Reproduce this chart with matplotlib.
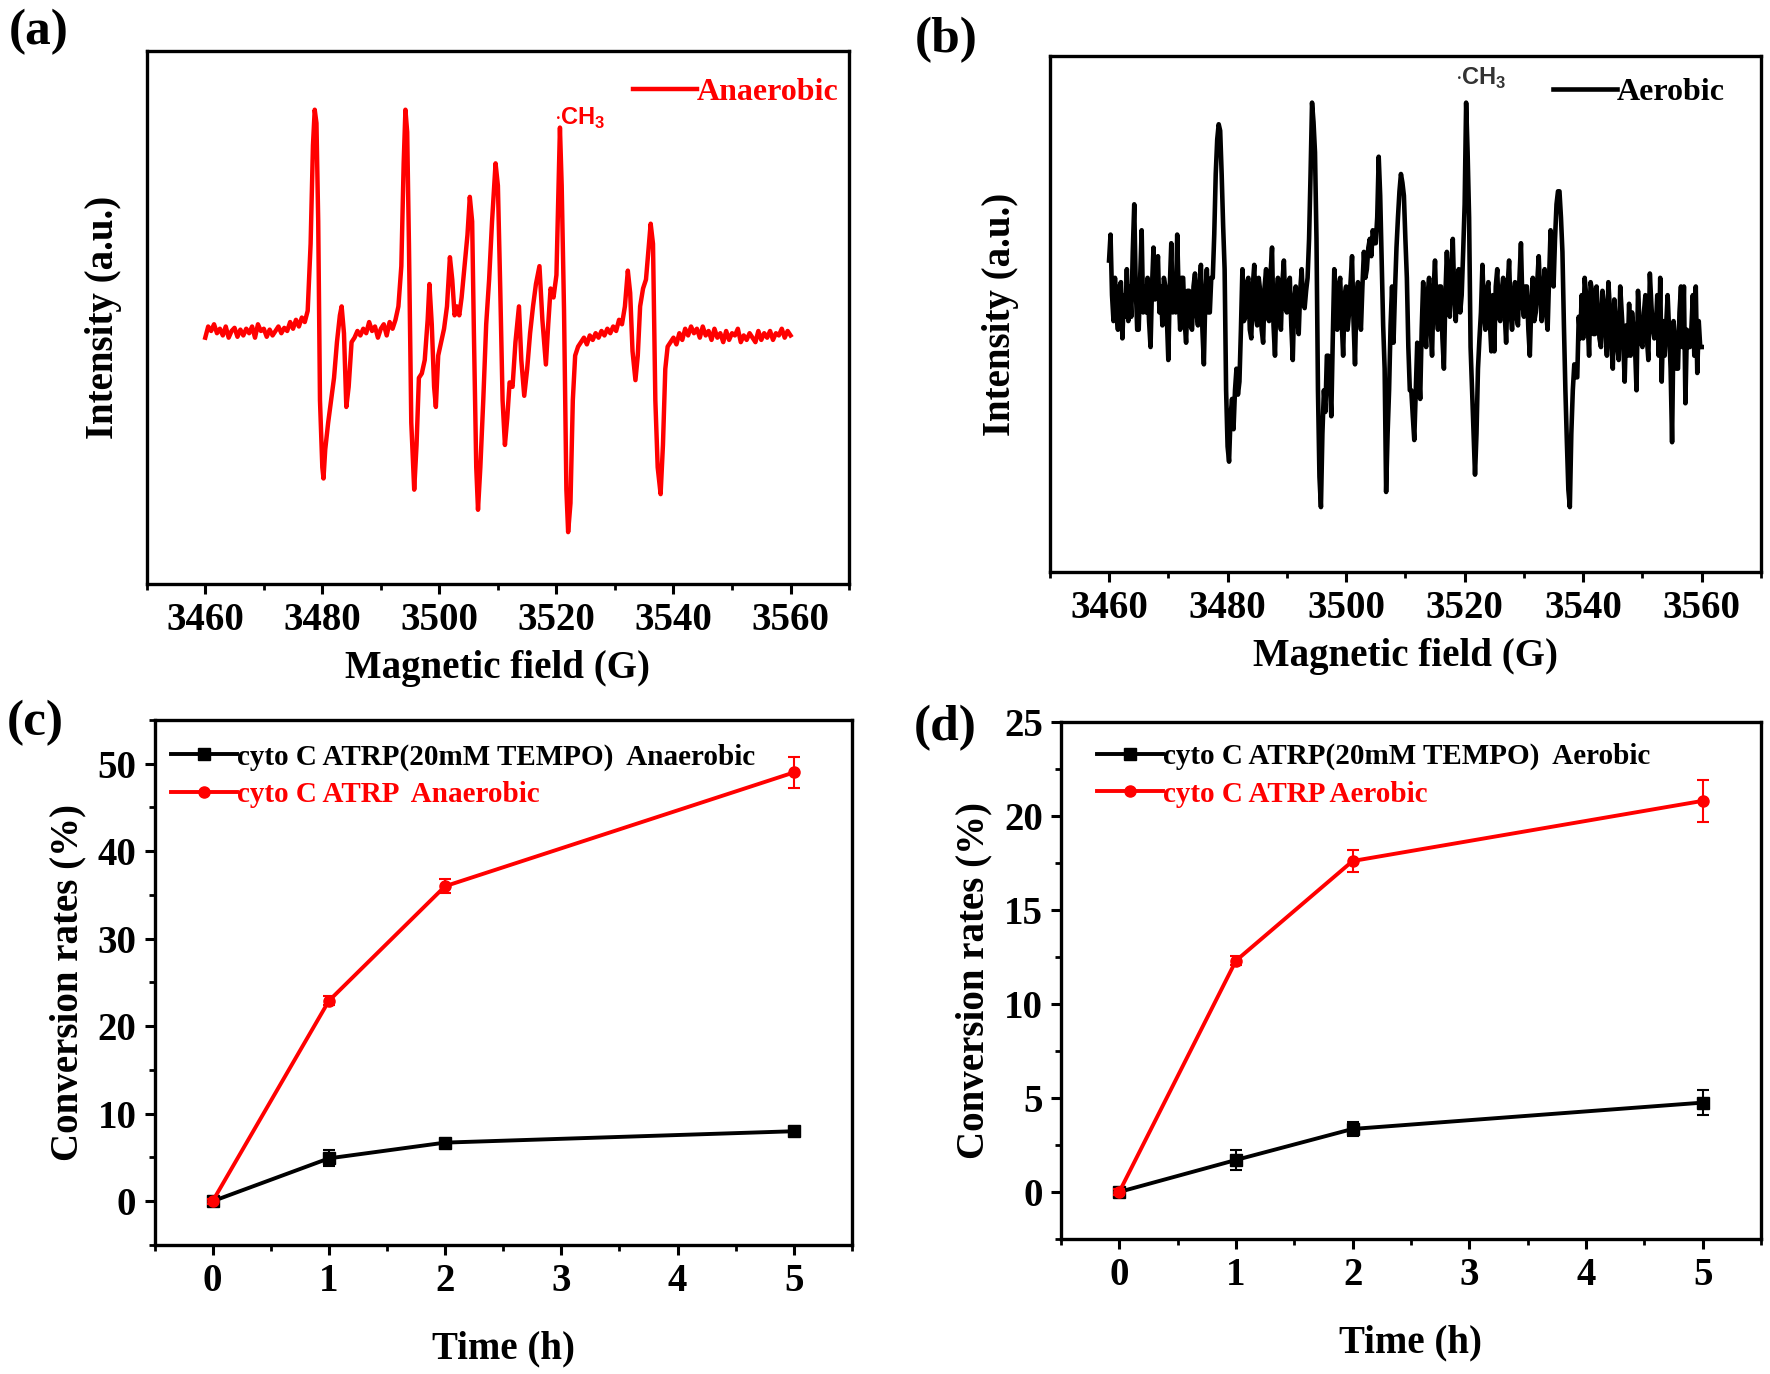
import matplotlib
matplotlib.use("Agg")
import matplotlib.pyplot as plt
from matplotlib.ticker import MultipleLocator

plt.rcParams['font.family'] = ['Liberation Serif', 'DejaVu Serif']
plt.rcParams['font.weight'] = 'bold'
plt.rcParams['axes.labelweight'] = 'bold'
plt.rcParams['mathtext.fontset'] = 'custom'
plt.rcParams['mathtext.rm'] = 'Liberation Sans'

# ---- EPR spectrum, anaerobic (panel a), field in G, intensity in a.u.
field_a = [3460, 3460.5, 3461, 3461.5, 3462, 3462.5, 3463, 3463.5, 3464, 3464.5, 3465, 3465.5,
           3466, 3466.5, 3467, 3467.5, 3468, 3468.5, 3469, 3469.5, 3470, 3470.5, 3471, 3471.5,
           3472, 3472.5, 3473, 3473.5, 3474, 3474.5, 3475, 3475.5, 3476, 3476.5, 3477, 3477.5,
           3478, 3478.4, 3478.7, 3479.0, 3479.3, 3479.6, 3480.0, 3480.2, 3480.5, 3481, 3481.5,
           3482, 3482.5, 3483, 3483.3, 3483.7, 3484.1, 3484.5, 3485, 3485.5, 3486, 3486.5, 3487,
           3487.5, 3488, 3488.5, 3489, 3489.5, 3490, 3490.5, 3491, 3491.5, 3492, 3492.5, 3493,
           3493.5, 3493.9, 3494.2, 3494.5, 3494.8, 3495.2, 3495.7, 3496.1, 3496.5, 3497, 3497.5,
           3498, 3498.3, 3498.7, 3499.1, 3499.4, 3499.8, 3500.3, 3500.8, 3501.3, 3501.8, 3502.2,
           3502.6, 3503, 3503.4, 3503.8, 3504.3, 3504.8, 3505.2, 3505.6, 3505.9, 3506.3, 3506.6,
           3507, 3507.5, 3508, 3508.5, 3509, 3509.6, 3510, 3510.4, 3510.8, 3511.2, 3511.6, 3512,
           3512.5, 3513, 3513.6, 3514, 3514.5, 3515, 3515.5, 3516, 3516.5, 3517.1, 3517.6, 3518.2,
           3518.6, 3519, 3519.5, 3520, 3520.3, 3520.6, 3520.9, 3521.3, 3521.7, 3522.0, 3522.4,
           3522.8, 3523.2, 3523.7, 3524.2, 3524.7, 3525.2, 3525.7, 3526.2, 3526.7, 3527.2, 3527.7,
           3528.2, 3528.7, 3529.2, 3529.7, 3530.2, 3530.7, 3531.2, 3531.7, 3532.2, 3532.6, 3533,
           3533.5, 3533.9, 3534.3, 3534.8, 3535.3, 3535.8, 3536.1, 3536.5, 3536.9, 3537.3, 3537.8,
           3538.2, 3538.6, 3539, 3539.5, 3540, 3540.5, 3541, 3541.5, 3542, 3542.5, 3543, 3543.5,
           3544, 3544.5, 3545, 3545.5, 3546, 3546.5, 3547, 3547.5, 3548, 3548.5, 3549, 3549.5,
           3550, 3550.5, 3551, 3551.5, 3552, 3552.5, 3553, 3553.5, 3554, 3554.5, 3555, 3555.5,
           3556, 3556.5, 3557, 3557.5, 3558, 3558.5, 3559, 3559.5, 3560]
intensity_a = [-10, 15, 5, 20, 0, 10, -5, 15, -10, 5, 12, -8,
               8, -5, 10, 0, 15, -10, 20, 5, 10, -8, 8, -5,
               5, 15, 0, 12, 5, 25, 10, 30, 15, 35, 25, 50,
               200, 420, 500, 470, 250, -150, -300, -325, -260, -200, -150,
               -100, -20, 40, 60, 0, -165, -120, -20, -10, 5, -5, 10,
               0, 25, 5, 15, -10, 10, 20, -5, 25, 10, 30, 60,
               150, 380, 500, 450, 200, -200, -350, -250, -100, -90, -60,
               30, 110, 20, -120, -165, -50, -20, 10, 60, 170, 120,
               40, 60, 40, 80, 150, 220, 305, 250, 0, -300, -395,
               -300, -150, 20, 120, 250, 380, 330, 100, -150, -250, -190, -110,
               -120, -20, 60, -60, -140, -80, 0, 60, 110, 150, 30, -70,
               20, 100, 80, 130, 300, 460, 330, 50, -350, -445, -380,
               -150, -50, -30, -20, -10, -25, -5, -15, 0, -10, 5,
               -5, 10, 0, 15, 5, 30, 20, 60, 140, 90, -40,
               -105, -50, 60, 100, 120, 200, 245, 200, -150, -300, -360,
               -250, -80, -30, -20, -10, -25, 0, -15, 10, -5, 15, 0,
               10, -10, 15, -5, 5, -15, 10, -10, 0, -20, 5, -15,
               0, -5, 10, -20, -5, -15, 0, -10, -20, 5, -15, 0,
               -10, 5, -15, 0, -5, 10, -10, 5, -5]

# ---- EPR spectrum, aerobic (panel b): one reading every 0.25 G from 3460 to 3560 G
field_b = [3460 + 0.25 * i for i in range(401)]
intensity_b = [100, 160, 20, -40, 60, -20, -60, 40, 50, -80, 20, -30, 80, -40, 40, -30, 120, 230, 40, -60,
               -60, 60, 170, -20, 40, -20, 60, -40, -100, 40, 130, 10, 60, 110, -20, 40, -50, 60, 40, -30,
               -130, 40, 140, -20, 60, -20, 160, 20, -60, 60, 60, -40, -90, 30, 30, -50, -60, 40, 70, -20,
               -50, 40, 90, -60, -140, 20, 80, -20, -20, 60, 60, 160, 300, 380, 415, 400, 300, 180, 80, -200,
               -330, -365, -260, -220, -290, -200, -150, -210, -180, -60, 80, -40, -30, 50, 60, -60, -80, 40, 90, -30,
               -50, 60, 30, -60, -90, 40, 80, -30, -40, 70, 130, -50, -120, 20, 60, -30, -60, 50, 100, -10,
               -20, 50, 60, -50, -130, 10, 40, -30, -70, 30, 80, 0, -10, 30, 60, 150, 300, 465, 420, 350,
               150, -200, -400, -470, -300, -200, -250, -120, -120, -180, -260, -80, 80, 20, -60, 40, 60, -40, -120, 20,
               40, -60, -20, 50, 110, -40, -140, 20, 50, -20, -60, 40, 120, 60, 80, 130, 150, 110, 170, 140,
               140, 200, 340, 250, 100, -50, -150, -435, -300, -200, -50, 40, -90, 30, 130, 200, 260, 300, 280, 250,
               150, 60, -100, -200, -200, -260, -315, -200, -90, -150, -220, -60, 50, -40, -100, 20, 60, -50, -120, 30,
               100, -20, -60, 40, 40, -80, -150, 20, 120, 30, -30, 80, 150, 20, -40, 60, 80, -20, 20, 120,
               230, 465, 350, 200, -100, -200, -300, -395, -300, -150, -80, -20, 90, -10, -60, 30, 50, -40, -110, 20,
               -110, 40, 80, -30, -40, 30, 60, -20, -90, 40, 100, -20, -60, 20, 50, -30, -50, 60, 140, 0,
               -30, 40, 40, -60, -120, 0, 60, -40, -20, 50, 110, 20, -40, 30, 80, -20, -60, 60, 170, 100,
               40, 150, 230, 260, 260, 200, 120, -50, -200, -320, -430, -470, -300, -200, -140, -170, -170, -30, -80, 20,
               -80, 60, 20, -40, -120, 50, 30, -70, -70, 40, -20, -80, -100, 30, 0, -60, -120, 50, -10, -90,
               -150, 10, -40, -100, -130, 40, -20, -80, -180, -50, -120, 0, -120, -20, -60, -100, -200, 30, -40, -90,
               -100, -20, 20, -80, -130, 70, 0, -60, -80, -60, 20, -120, 60, -180, -40, -120, -50, 20, -60, -150,
               -320, -40, -80, -150, -150, -20, 40, -100, 40, -230, -60, -100, -100, -60, 20, -120, 40, -160, -40, -100,
               -100]

# ---- conversion kinetics (panels c, d)
time_h = [0, 1, 2, 5]
conv_c_tempo = [0, 4.9, 6.7, 8.0]
err_c_tempo = [0.3, 0.9, 0.3, 0.3]
conv_c_atrp = [0, 22.9, 36.0, 49.0]
err_c_atrp = [0.3, 0.5, 0.8, 1.8]
conv_d_tempo = [0, 1.7, 3.35, 4.75]
err_d_tempo = [0.15, 0.55, 0.35, 0.65]
conv_d_atrp = [0, 12.3, 17.6, 20.8]
err_d_atrp = [0.15, 0.25, 0.6, 1.1]

RED = '#ff0000'
TICK_FS = 28
LABEL_FS = 28


def style_axes(ax):
    for sp in ax.spines.values():
        sp.set_linewidth(2.4)
    ax.tick_params(axis='both', which='major', direction='out', length=7, width=2.2,
                   labelsize=TICK_FS, top=False, right=False, pad=6)
    ax.tick_params(axis='both', which='minor', direction='out', length=4, width=2.0,
                   top=False, right=False)


fig = plt.figure(figsize=(17.7, 13.74), dpi=100)

# (a)
ax_a = fig.add_axes([0.0829, 0.5753, 0.3968, 0.3878])
ax_a.plot(field_a, intensity_a, color=RED, lw=3.2, label='Anaerobic')
ax_a.set_xlim(3450, 3570)
ax_a.set_ylim(-560, 632)
ax_a.xaxis.set_major_locator(MultipleLocator(20))
ax_a.xaxis.set_minor_locator(MultipleLocator(10))
ax_a.set_yticks([])
style_axes(ax_a)
ax_a.set_xlabel('Magnetic field (G)', fontsize=LABEL_FS, labelpad=8)
ax_a.set_ylabel('Intensity (a.u.)', fontsize=LABEL_FS, labelpad=18)
ax_a.text(3519.5, 480, r'$\cdot\mathrm{CH}_3$', color=RED, fontsize=17, ha='left', va='center')
ax_a.legend(loc='center right', bbox_to_anchor=(0.985, 0.921), frameon=False, fontsize=23,
            labelcolor=RED, handlelength=2.0, handletextpad=0.0, borderpad=0.0,
            borderaxespad=0.0)

# (b)
ax_b = fig.add_axes([0.5931, 0.5837, 0.4018, 0.3753])
ax_b.plot(field_b, intensity_b, color='black', lw=3.3, label='Aerobic')
ax_b.set_xlim(3450, 3570)
ax_b.set_ylim(-620, 572)
ax_b.xaxis.set_major_locator(MultipleLocator(20))
ax_b.xaxis.set_minor_locator(MultipleLocator(10))
ax_b.set_yticks([])
style_axes(ax_b)
ax_b.set_xlabel('Magnetic field (G)', fontsize=LABEL_FS, labelpad=8)
ax_b.set_ylabel('Intensity (a.u.)', fontsize=LABEL_FS, labelpad=22)
ax_b.text(3518.3, 520, r'$\cdot\mathrm{CH}_3$', color='#333333', fontsize=17, ha='left', va='center')
ax_b.legend(loc='center right', bbox_to_anchor=(0.949, 0.93), frameon=False, fontsize=23,
            labelcolor='black', handlelength=2.0, handletextpad=0.0, borderpad=0.0,
            borderaxespad=0.0)


def kinetics(ax, y1, e1, y2, e2, lab1, lab2, ylim, ymaj, ymin, anchor):
    ax.plot(time_h, y1, color='black', marker='s', ms=8, lw=2.8, label=lab1)
    ax.errorbar(time_h, y1, yerr=e1, fmt='none', ecolor='black', capsize=4,
                elinewidth=1.5, capthick=1.5)
    ax.plot(time_h, y2, color=RED, marker='o', ms=8, lw=2.8, label=lab2)
    ax.errorbar(time_h, y2, yerr=e2, fmt='none', ecolor=RED, capsize=4,
                elinewidth=1.5, capthick=1.5)
    ax.set_xlim(-0.5, 5.5)
    ax.set_ylim(*ylim)
    ax.xaxis.set_major_locator(MultipleLocator(1))
    ax.xaxis.set_minor_locator(MultipleLocator(0.5))
    ax.yaxis.set_major_locator(MultipleLocator(ymaj))
    ax.yaxis.set_minor_locator(MultipleLocator(ymin))
    style_axes(ax)
    ax.set_xlabel('Time (h)', fontsize=LABEL_FS, labelpad=22)
    ax.set_ylabel('Conversion rates (%)', fontsize=LABEL_FS, labelpad=8)
    ax.legend(loc='upper left', bbox_to_anchor=anchor, frameon=False, fontsize=21,
              labelcolor=['black', RED], handlelength=2.25, handletextpad=0.0,
              borderpad=0.0, borderaxespad=0.0, labelspacing=0.35)


# (c)
ax_c = fig.add_axes([0.0873, 0.0939, 0.394, 0.3821])
kinetics(ax_c, conv_c_tempo, err_c_tempo, conv_c_atrp, err_c_atrp,
         'cyto C ATRP(20mM TEMPO)  Anaerobic', 'cyto C ATRP  Anaerobic', (-5, 55), 10, 5,
         (0.024, 0.955))

# (d)
ax_d = fig.add_axes([0.5994, 0.0983, 0.3955, 0.3763])
kinetics(ax_d, conv_d_tempo, err_d_tempo, conv_d_atrp, err_d_atrp,
         'cyto C ATRP(20mM TEMPO)  Aerobic', 'cyto C ATRP Aerobic', (-2.5, 25), 5, 2.5,
         (0.052, 0.959))

# panel letters
for lab, x, y in [('(a)', 0.005, 0.977), ('(b)', 0.517, 0.971), ('(c)', 0.004, 0.474), ('(d)', 0.516, 0.470)]:
    fig.text(x, y, lab, fontsize=37, fontweight='bold', ha='left', va='center')

fig.savefig('out.png', dpi=100)
